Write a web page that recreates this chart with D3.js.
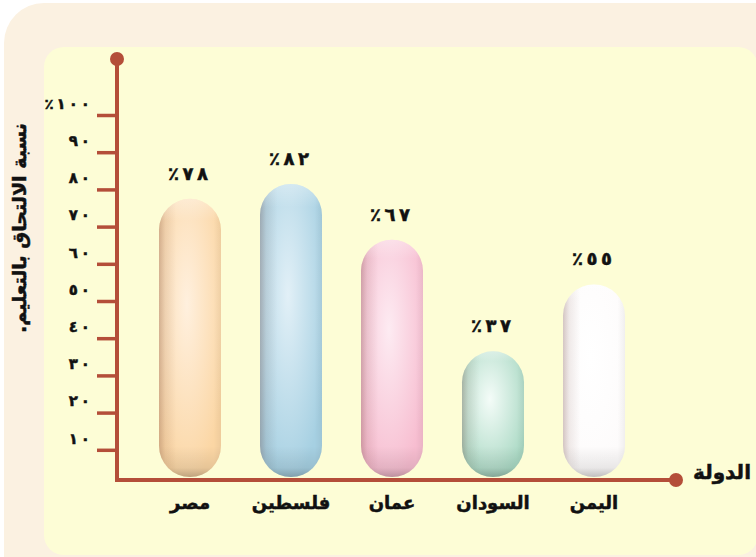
<!DOCTYPE html>
<html>
<head>
<meta charset="utf-8">
<script src="https://cdn.jsdelivr.net/npm/d3@7/dist/d3.min.js"></script>
<style>
  body { margin: 0; background: #ffffff; }
  svg { display: block; }
  text { font-family: "DejaVu Sans", sans-serif; font-weight: bold; fill: #111; stroke: #111; stroke-width: 0.5px; }
</style>
</head>
<body>
<div id="container"></div>
<script>
// data
var countries = ["مصر", "فلسطين", "عمان", "السودان", "اليمن"];
var enrolment = [78, 82, 67, 37, 55];
var valueLabels = ["٪٧٨", "٪٨٢", "٪٦٧", "٪٣٧", "٪٥٥"];
var tickValues = [10, 20, 30, 40, 50, 60, 70, 80, 90, 100];
var tickLabels = ["١٠", "٢٠", "٣٠", "٤٠", "٥٠", "٦٠", "٧٠", "٨٠", "٩٠", "٪١٠٠"];
var yTitle = "نسبة الالتحاق بالتعليم.";
var xTitle = "الدولة";

var width = 756;
var height = 557;
var axisColor = "#B44E39";
var axisX = 117;
var axisY = 480;
var barWidth = 62;

var barColors = [
    {base: "#FBD6A4", light: "#FFF0DE"},
    {base: "#A6D0E2", light: "#E2F0F7"},
    {base: "#F7BDD0", light: "#FDEBF2"},
    {base: "#AAD9C4", light: "#F4FCF8"},
    {base: "#FDFBFB", light: "#FFFFFF"}
];

// digits are drawn spaced out, like the printed figure
function spaced(s) { return s.split('').join('\u2009'); }

var data = countries.map(function(c, i) {
    return {name: c, value: enrolment[i], label: valueLabels[i], color: barColors[i], i: i};
});

var svg = d3.select('#container').append('svg').attr('width', width).attr('height', height);

// panels
svg.append('rect').attr('x', 4).attr('y', 3).attr('width', 800).attr('height', 620)
    .attr('rx', 40).attr('fill', '#FBF1E1');
svg.append('rect').attr('x', 44).attr('y', 47).attr('width', 714).attr('height', 508)
    .attr('rx', 20).attr('fill', '#FDFDD6');

var yScale = d3.scaleLinear().domain([0, 100]).range([487, 115]);
var xScale = d3.scalePoint().domain(countries).range([190, 594]);

var defs = svg.append('defs');

var fills = defs.selectAll('radialGradient')
    .data(data)
    .enter().append('radialGradient')
    .attr('id', function(d) { return 'fill-' + d.i; })
    .attr('cx', '45%')
    .attr('cy', '38%')
    .attr('r', '65%');
fills.append('stop').attr('offset', '0%').attr('stop-color', function(d) { return d.color.light; });
fills.append('stop').attr('offset', '100%').attr('stop-color', function(d) { return d.color.base; });

// side shading
var sideGrad = defs.append('linearGradient').attr('id', 'side')
    .attr('x1', 0).attr('x2', 1).attr('y1', 0).attr('y2', 0);
sideGrad.append('stop').attr('offset', '0%').attr('stop-color', '#6a3a30').attr('stop-opacity', 0.28);
sideGrad.append('stop').attr('offset', '10%').attr('stop-color', '#6a3a30').attr('stop-opacity', 0.1);
sideGrad.append('stop').attr('offset', '28%').attr('stop-color', '#6a3a30').attr('stop-opacity', 0);
sideGrad.append('stop').attr('offset', '88%').attr('stop-color', '#000').attr('stop-opacity', 0);
sideGrad.append('stop').attr('offset', '100%').attr('stop-color', '#000').attr('stop-opacity', 0.05);

// bottom shading
var bottomGrad = defs.append('linearGradient').attr('id', 'bottom')
    .attr('gradientUnits', 'userSpaceOnUse')
    .attr('x1', 0).attr('x2', 0).attr('y1', axisY - 34).attr('y2', axisY - 3);
bottomGrad.append('stop').attr('offset', '0%').attr('stop-color', '#000').attr('stop-opacity', 0);
bottomGrad.append('stop').attr('offset', '70%').attr('stop-color', '#000').attr('stop-opacity', 0.08);
bottomGrad.append('stop').attr('offset', '100%').attr('stop-color', '#000').attr('stop-opacity', 0.24);

// top rim
var rimGrad = defs.append('linearGradient').attr('id', 'toprim')
    .attr('x1', 0).attr('x2', 0).attr('y1', 0).attr('y2', 1);
rimGrad.append('stop').attr('offset', '0%').attr('stop-color', '#fff').attr('stop-opacity', 0.35);
rimGrad.append('stop').attr('offset', '8%').attr('stop-color', '#fff').attr('stop-opacity', 0);
rimGrad.append('stop').attr('offset', '100%').attr('stop-color', '#fff').attr('stop-opacity', 0);

var bars = svg.append('g').selectAll('g')
    .data(data)
    .enter().append('g');

function barRect(sel) {
    return sel
        .attr('x', function(d) { return xScale(d.name) - barWidth / 2; })
        .attr('y', function(d) { return yScale(d.value) + 2; })
        .attr('width', barWidth)
        .attr('height', function(d) { return axisY - 3 - yScale(d.value) - 2; })
        .attr('rx', barWidth / 2);
}

barRect(bars.append('rect')).attr('fill', function(d) { return 'url(#fill-' + d.i + ')'; });
barRect(bars.append('rect')).attr('fill', 'url(#side)');
barRect(bars.append('rect')).attr('fill', 'url(#bottom)');
barRect(bars.append('rect')).attr('fill', 'url(#toprim)');

bars.append('text')
    .attr('x', function(d) { return xScale(d.name) - 2; })
    .attr('y', function(d) { return yScale(d.value) - 17; })
    .attr('text-anchor', 'middle')
    .attr('direction', 'ltr')
    .attr('unicode-bidi', 'bidi-override')
    .attr('font-size', '18px')
    .text(function(d) { return spaced(d.label); });

// y axis ticks and labels
var yAxis = d3.axisLeft(yScale)
    .tickValues(tickValues)
    .tickSize(20)
    .tickPadding(7)
    .tickFormat(function(d, i) { return spaced(tickLabels[i]); });

var yAxisG = svg.append('g')
    .attr('transform', 'translate(' + axisX + ',0)')
    .call(yAxis);
yAxisG.select('.domain').remove();
yAxisG.selectAll('.tick line').attr('stroke', axisColor).attr('stroke-width', 3.5);
yAxisG.selectAll('.tick text')
    .attr('dy', '-0.45em')
    .attr('direction', 'ltr')
    .attr('unicode-bidi', 'bidi-override')
    .attr('font-size', '15px')
    .attr('font-family', '"DejaVu Sans", sans-serif')
    .attr('font-weight', 'bold')
    .attr('fill', '#111');

// axis lines
svg.append('line').attr('x1', axisX).attr('x2', axisX).attr('y1', 60).attr('y2', axisY + 2)
    .attr('stroke', axisColor).attr('stroke-width', 4);
svg.append('line').attr('x1', axisX).attr('x2', 676).attr('y1', axisY).attr('y2', axisY)
    .attr('stroke', axisColor).attr('stroke-width', 4);
svg.append('circle').attr('cx', axisX).attr('cy', 59).attr('r', 7).attr('fill', axisColor);
svg.append('circle').attr('cx', 676).attr('cy', axisY).attr('r', 7).attr('fill', axisColor);

// category labels
svg.append('g').selectAll('text')
    .data(data)
    .enter().append('text')
    .attr('x', function(d) { return xScale(d.name); })
    .attr('y', 509)
    .attr('text-anchor', 'middle')
    .attr('font-size', '18px')
    .text(function(d) { return d.name; });

// titles
svg.append('text')
    .attr('transform', 'translate(26,228) rotate(-90)')
    .attr('text-anchor', 'middle')
    .attr('direction', 'rtl')
    .attr('font-size', '19px')
    .text(yTitle);

svg.append('text')
    .attr('x', 693)
    .attr('y', 479)
    .attr('font-size', '20px')
    .text(xTitle);
</script>
</body>
</html>
